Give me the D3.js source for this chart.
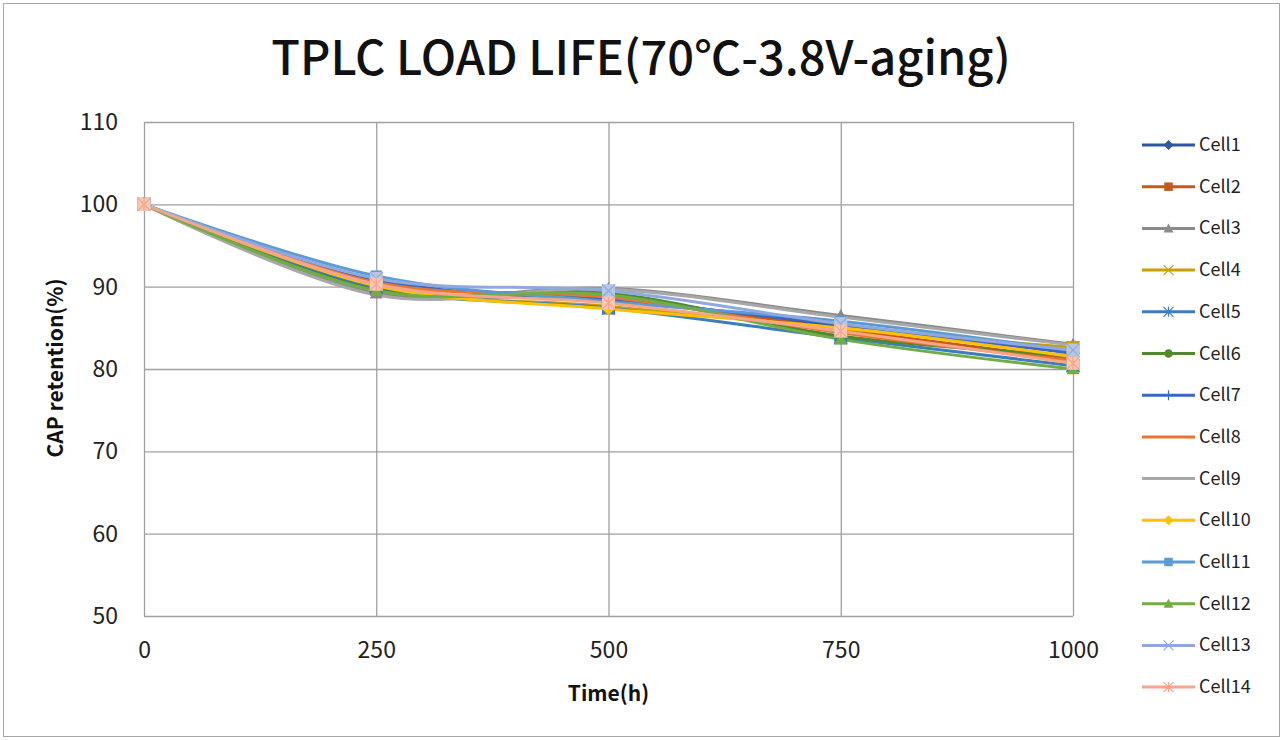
<!DOCTYPE html>
<html><head><meta charset="utf-8">
<script src="https://cdn.jsdelivr.net/npm/d3@7"></script>
<style>body{margin:0;background:#fff;} svg{display:block;}</style>
</head><body>
<script>
const times = [0, 250, 500, 750, 1000];
const cellNames = ["Cell1","Cell2","Cell3","Cell4","Cell5","Cell6","Cell7","Cell8","Cell9","Cell10","Cell11","Cell12","Cell13","Cell14"];
const cell1  = [100, 89.8, 88.5, 85.2, 82.0];
const cell2  = [100, 90.5, 88.8, 84.8, 81.2];
const cell3  = [100, 89.2, 89.8, 86.5, 83.0];
const cell4  = [100, 90.0, 87.6, 84.9, 82.6];
const cell5  = [100, 89.9, 87.4, 83.8, 80.4];
const cell6  = [100, 89.6, 89.2, 84.0, 81.6];
const cell7  = [100, 90.8, 88.4, 85.4, 81.9];
const cell8  = [100, 90.5, 88.7, 84.4, 81.0];
const cell9  = [100, 89.0, 89.7, 86.3, 82.9];
const cell10 = [100, 90.1, 87.3, 85.0, 81.5];
const cell11 = [100, 91.3, 88.2, 85.8, 82.2];
const cell12 = [100, 89.5, 89.0, 83.6, 80.0];
const cell13 = [100, 91.0, 89.5, 85.5, 82.3];
const cell14 = [100, 90.3, 88.0, 84.6, 80.7];
const yTicks = [50, 60, 70, 80, 90, 100, 110];
const xTicks = [0, 250, 500, 750, 1000];
const titleText = "TPLC LOAD LIFE(70℃-3.8V-aging)";
const yTitle = "CAP retention(%)";
const xTitle = "Time(h)";

const seriesValues = [cell1,cell2,cell3,cell4,cell5,cell6,cell7,cell8,cell9,cell10,cell11,cell12,cell13,cell14];
const colors = ["#2F55A3","#C55A1E","#8A8A8A","#C9A000","#3D7DBB","#4F8A2F","#3A67C6","#E9752F","#A8A8A8","#FFC000","#5B9BD5","#70AD47","#8FA9DF","#F4A58A"];
const fills  = ["#2F55A3","#C55A1E","#8A8A8A","#C9A000","#3D7DBB","#4F8A2F","#3A67C6","#E9752F","#A8A8A8","#FFC000","#5B9BD5","#70AD47","#B4C7E7","#F8C8B4"];
const markers = ["diamond","square","triangle","x","star","circle","plus","none","none","diamond","square","triangle","x","star"];

const W = 1283, H = 740;
const FONT = "'Noto Sans CJK SC','Noto Sans',sans-serif";
const svg = d3.select("body").append("svg").attr("width", W).attr("height", H);
svg.append("rect").attr("x",3.5).attr("y",3.5).attr("width",W-7).attr("height",H-7)
  .attr("fill","#fff").attr("stroke","#a6a6a6").attr("stroke-width",1);

const plot = {l:144, t:122, r:1073, b:616};
const x = d3.scaleLinear().domain([0,1000]).range([plot.l, plot.r]);
const y = d3.scaleLinear().domain([50,110]).range([plot.b, plot.t]);

// gridlines
const g = svg.append("g");
g.selectAll(".hg").data(yTicks).join("line")
  .attr("x1",plot.l).attr("x2",plot.r).attr("y1",d=>y(d)+0.5).attr("y2",d=>y(d)+0.5)
  .attr("stroke","#a0a0a0").attr("stroke-width",1.3);
g.selectAll(".vg").data(xTicks).join("line")
  .attr("y1",plot.t).attr("y2",plot.b).attr("x1",d=>x(d)+0.5).attr("x2",d=>x(d)+0.5)
  .attr("stroke","#a0a0a0").attr("stroke-width",1.3);

// axes labels
const yAxis = d3.axisLeft(y).tickValues(yTicks).tickSize(0).tickPadding(26).tickFormat(d3.format("d"));
const ya = svg.append("g").attr("transform",`translate(${plot.l},0)`).call(yAxis);
ya.select(".domain").remove();
ya.selectAll("text").attr("font-family",FONT).attr("font-size",23).attr("fill","#222");
const xAxis = d3.axisBottom(x).tickValues(xTicks).tickSize(0).tickPadding(26).tickFormat(d3.format("d"));
const xa = svg.append("g").attr("transform",`translate(0,${plot.b})`).call(xAxis);
xa.select(".domain").remove();
xa.selectAll("text").attr("font-family",FONT).attr("font-size",23).attr("fill","#222");

svg.append("text").attr("x",641).attr("y",75).attr("text-anchor","middle")
  .attr("font-family",FONT).attr("font-size",47).attr("font-weight",500).attr("fill","#111").text(titleText);
svg.append("text").attr("transform",`translate(63,${(plot.t+plot.b)/2-1}) rotate(-90)`).attr("text-anchor","middle")
  .attr("font-family",FONT).attr("font-size",21).attr("font-weight",700).attr("fill","#111").text(yTitle);
svg.append("text").attr("x",(plot.l+plot.r)/2).attr("y",701).attr("text-anchor","middle")
  .attr("font-family",FONT).attr("font-size",21).attr("font-weight",700).attr("fill","#111").text(xTitle);

const line = d3.line().x((d,i)=>x(times[i])).y(d=>y(d)).curve(d3.curveCatmullRom.alpha(0));

function drawMarker(sel, type, cx, cy, col, fill, s) {
  const m = sel.append("g").attr("transform",`translate(${cx},${cy})`);
  if (type==="diamond") m.append("path").attr("d",`M0,${-s}L${s},0L0,${s}L${-s},0Z`).attr("fill",col);
  else if (type==="square") m.append("rect").attr("x",-s*0.85).attr("y",-s*0.85).attr("width",s*1.7).attr("height",s*1.7).attr("fill",col);
  else if (type==="triangle") m.append("path").attr("d",`M0,${-s}L${s},${s*0.8}L${-s},${s*0.8}Z`).attr("fill",col);
  else if (type==="circle") m.append("circle").attr("r",s*0.85).attr("fill",col);
  else if (type==="plus") m.append("path").attr("d",`M0,${-s}V${s}M${-s},0H${s}`).attr("stroke",col).attr("stroke-width",1.2);
  else if (type==="x") {
    m.append("rect").attr("x",-s).attr("y",-s).attr("width",2*s).attr("height",2*s).attr("fill",fill);
    m.append("path").attr("d",`M${-s},${-s}L${s},${s}M${-s},${s}L${s},${-s}`).attr("stroke",col).attr("stroke-width",1.2);
  } else if (type==="star") {
    m.append("rect").attr("x",-s).attr("y",-s).attr("width",2*s).attr("height",2*s).attr("fill",fill);
    m.append("path").attr("d",`M${-s},${-s}L${s},${s}M${-s},${s}L${s},${-s}M0,${-s}V${s}`).attr("stroke",col).attr("stroke-width",1.2);
  }
}

const series = svg.append("g");
seriesValues.forEach((vals,k)=>{
  series.append("path").attr("d",line(vals)).attr("fill","none").attr("stroke",colors[k])
    .attr("stroke-width",3).attr("stroke-linejoin","round");
});
seriesValues.forEach((vals,k)=>{
  if (markers[k]==="none") return;
  vals.forEach((v,i)=> drawMarker(series, markers[k], x(times[i]), y(v), colors[k], fills[k], 6.5));
});

// legend
const lg = svg.append("g");
cellNames.forEach((name,k)=>{
  const ly = 145 + k*41.7;
  lg.append("line").attr("x1",1142).attr("x2",1195).attr("y1",ly).attr("y2",ly).attr("stroke",colors[k]).attr("stroke-width",3);
  if (markers[k]!=="none") {
    const t = markers[k];
    drawMarker(lg, t, 1168.5, ly, colors[k], (t==="x"||t==="star")?"none":fills[k], 5);
  }
  lg.append("text").attr("x",1199).attr("y",ly+6).attr("font-family",FONT).attr("font-size",18).attr("fill","#222").text(name);
});
</script>
</body></html>
